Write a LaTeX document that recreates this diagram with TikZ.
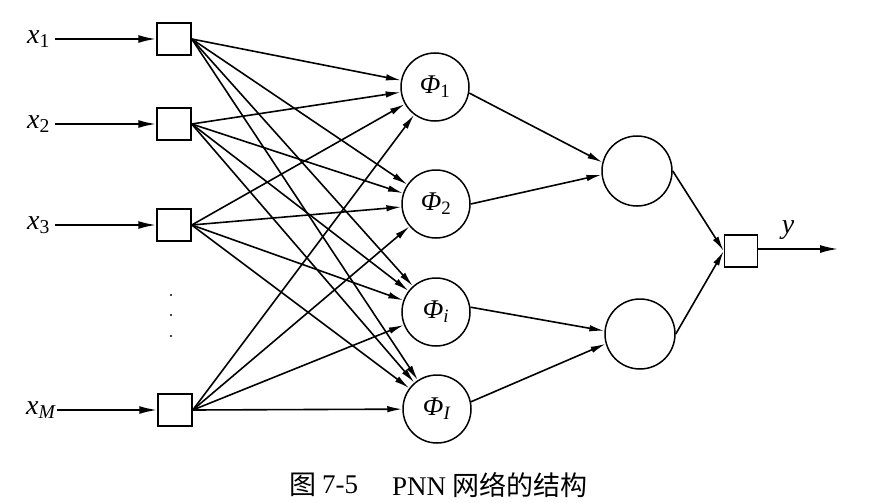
\documentclass[tikz,border=0pt]{standalone}
\usepackage{fontspec}
\setmainfont{Liberation Serif}
\newfontfamily\cjk{Noto Sans CJK SC}
\usetikzlibrary{arrows.meta}
\begin{document}
\begin{tikzpicture}[x=1pt,y=-1pt,
  unitbox/.style={draw,line width=1.5pt,minimum width=34pt,minimum height=32pt,inner sep=0pt},
  patt/.style={draw,circle,line width=1.5pt,minimum size=68pt,inner sep=0pt,font=\fontsize{27}{29}\selectfont},
  summ/.style={draw,circle,line width=1.5pt,minimum size=70pt,inner sep=0pt},
  lab/.style={font=\fontsize{28}{30}\selectfont,inner sep=0pt},
  fan/.style={line width=1.6pt,-{Latex[length=15pt,width=6.5pt]}},
  inarr/.style={line width=2pt,-{Latex[length=18pt,width=8pt]}},
  capt/.style={font=\fontsize{27}{29}\selectfont,inner sep=0pt}]
\useasboundingbox (0,0) rectangle (894,503);
% input labels
\node[lab,anchor=west] (l1) at (27,39) {\textit{x}\textsubscript{1}};
\node[lab,anchor=west] (l2) at (27,124) {\textit{x}\textsubscript{2}};
\node[lab,anchor=west] (l3) at (27,225) {\textit{x}\textsubscript{3}};
\node[lab,anchor=west] (lM) at (26,410) {\textit{x}\textsubscript{\textit{M}}};
\coordinate (c1) at (55,39);
\coordinate (c2) at (55,124);
\coordinate (c3) at (55,225);
\coordinate (cM) at (57,410);
% input boxes
\node[unitbox] (b1) at (174,39) {};
\node[unitbox] (b2) at (174,124) {};
\node[unitbox] (b3) at (174,225) {};
\node[unitbox] (bM) at (175,410) {};
\foreach \y in {295,315,336} \fill (171,\y) circle (1.1pt);
% pattern units
\node[patt] (p1) at (435,87) {\textit{Φ}\textsubscript{1}};
\node[patt] (p2) at (436,204) {\textit{Φ}\textsubscript{2}};
\node[patt] (pi) at (436,312) {\textit{Φ}\textsubscript{\textit{i}}};
\node[patt] (pI) at (437,409) {\textit{Φ}\textsubscript{\textit{I}}};
% summation units
\node[summ] (s1) at (637,171) {};
\node[summ] (s2) at (640,334) {};
% output
\node[unitbox,minimum width=33pt] (out) at (741,251) {};
\coordinate (oend) at (838,249);
\node[lab] (ly) at (788,230) {\textit{y}};
% connectors
\foreach \c/\b in {c1/b1,c2/b2,c3/b3,cM/bM}
  \draw[inarr] (\c) -- (\b.west);
\foreach \b in {b1,b2,b3,bM}
  \foreach \p in {p1,p2,pi,pI}
    \draw[fan] (\b.east) -- (\p);
\draw[fan] (p1.-10) -- (s1.166);
\draw[fan] (p2.east) -- (s1.186);
\draw[fan] (pi.8) -- (s2.175);
\draw[fan] (pI.12) -- (s2.196);
\draw[fan] (s1.east) -- (out.west);
\draw[fan] (s2.east) -- (out.west);
\draw[inarr,line width=1.7pt] (out.east|-oend) -- (oend);
% caption
\node[capt] (cap1) at (303,485) {\cjk 图};
\node[capt] (cap2) at (340,485) {7-5};
\node[capt,anchor=west] (cap3) at (392,485) {PNN {\cjk 网络的结构}};
\end{tikzpicture}
\end{document}
